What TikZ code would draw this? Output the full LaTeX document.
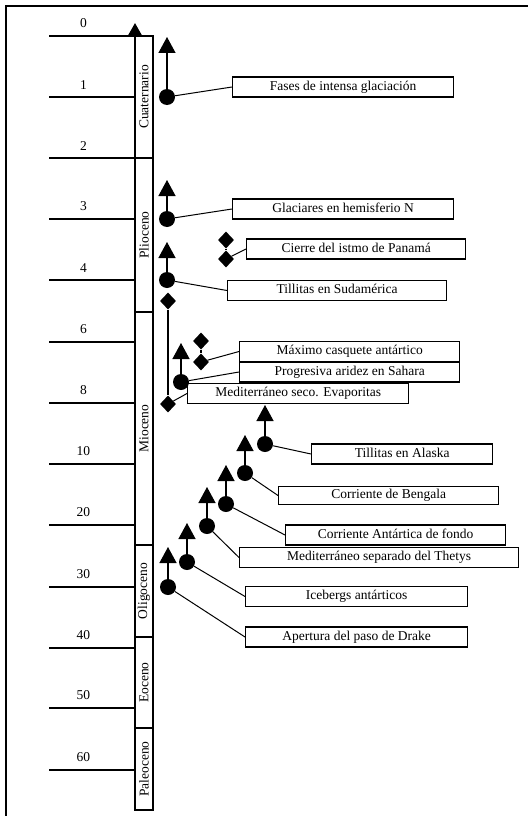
\documentclass[tikz,border=0pt]{standalone}
\usepackage{fontspec}
\setmainfont{Liberation Serif}
\usetikzlibrary{arrows.meta,shapes.geometric,positioning}
\begin{document}
\begin{tikzpicture}[x=1pt,y=-1pt,font=\fontsize{13.5}{15}\selectfont,
    periodo/.style={draw,line width=1.2pt,rotate=90,inner sep=0pt,minimum height=18pt},
    caja/.style={draw,line width=1.3pt,inner sep=0pt,minimum height=20pt,text height=9pt,text depth=3pt,anchor=west},
    punto/.style={circle,fill,inner sep=0pt,minimum size=16pt},
    rombo/.style={diamond,fill,inner sep=0pt,minimum width=16pt,minimum height=17pt},
    sube/.style={line width=1.3pt,-{Triangle[width=17pt,length=16pt]}},
    enlace/.style={line width=1pt}]
    \useasboundingbox (0,0) rectangle (528,816);
    \draw[line width=1.2pt] (6,816)--(6,6)--(528,6);
    \foreach \v/\y in {0/36,1/97,2/158,3/219,4/280,6/342,8/403,10/464,20/525,30/587,40/648,50/708,60/770}
        \draw[line width=1.3pt] (49,\y)--(135,\y) node[pos=0.4,above=4pt] (t\v) {\v};
    \node[periodo,minimum width=122pt] (cuaternario) at (144,97) {Cuaternario};
    \node[periodo,minimum width=154pt] (plioceno) at (144,235) {Plioceno};
    \node[periodo,minimum width=233pt] (mioceno) at (144,428.5) {Mioceno};
    \node[periodo,minimum width=92pt] (oligoceno) at (144,591) {Oligoceno};
    \node[periodo,minimum width=91pt] (eoceno) at (144,682.5) {Eoceno};
    \node[periodo,minimum width=82pt] (paleoceno) at (144,769) {Paleoceno};
    \coordinate (base) at (135,810);
    \coordinate (cima) at (135,23);
    \draw[line width=2.4pt,-{Triangle[width=14pt,length=13pt]}] (base)--(cima);
    \node[caja,minimum width=221pt] (fases) at (232,87) {Fases de intensa glaciación};
    \node[caja,minimum width=221pt] (glaciares) at (232,209) {Glaciares en hemisferio N};
    \node[caja,minimum width=219pt] (cierre) at (246,249) {Cierre del istmo de Panamá};
    \node[caja,minimum width=219pt] (sudamerica) at (227,290.5) {Tillitas en Sudamérica};
    \node[caja,minimum width=220pt] (maximo) at (239,351.5) {Máximo casquete antártico};
    \node[caja,minimum width=220pt] (sahara) at (239,372) {Progresiva aridez en Sahara};
    \node[caja,minimum width=221pt] (seco) at (187,393.5) {Mediterráneo seco. Evaporitas};
    \node[caja,minimum width=181pt] (alaska) at (311,454) {Tillitas en Alaska};
    \node[caja,minimum width=220pt,minimum height=18pt] (bengala) at (278,495.5) {Corriente de Bengala};
    \node[caja,minimum width=220pt] (fondo) at (285,535) {Corriente Antártica de fondo};
    \node[caja,minimum width=279pt] (thetys) at (239,557.5) {Mediterráneo separado del Thetys};
    \node[caja,minimum width=222pt] (icebergs) at (245,596.5) {Icebergs antárticos};
    \node[caja,minimum width=222pt] (drake) at (245,637) {Apertura del paso de Drake};
    \node[punto] (fases p) at (167,97) {};
    \node[punto] (glaciares p) at (167,219) {};
    \node[rombo] (cierre a) at (226,240) {};
    \node[rombo] (cierre b) at (226,259) {};
    \node[punto] (sudamerica p) at (167,280) {};
    \node[rombo] (seco a) at (168,301) {};
    \node[rombo] (seco b) at (168,404) {};
    \node[rombo] (maximo a) at (201,341) {};
    \node[rombo] (maximo b) at (201,362) {};
    \node[punto] (sahara p) at (181,382) {};
    \node[punto] (alaska p) at (265,444) {};
    \node[punto] (bengala p) at (245,473) {};
    \node[punto] (fondo p) at (226,504) {};
    \node[punto] (thetys p) at (207,526) {};
    \node[punto] (icebergs p) at (187,562) {};
    \node[punto] (drake p) at (168,587) {};
    \coordinate (fases f) at (167,37);
    \coordinate (glaciares f) at (167,180);
    \coordinate (sudamerica f) at (167,242);
    \coordinate (sahara f) at (181,343);
    \coordinate (alaska f) at (265,405);
    \coordinate (bengala f) at (245,435);
    \coordinate (fondo f) at (226,465);
    \coordinate (thetys f) at (207,487);
    \coordinate (icebergs f) at (187,523);
    \coordinate (drake f) at (168,547);
    \foreach \e in {fases,glaciares,sudamerica,sahara,alaska,bengala,fondo,thetys,icebergs,drake}{
        \draw[sube] (\e\space p)--(\e\space f);
        \draw[enlace] (\e\space p)--(\e.west);
    }
    \draw[line width=1.3pt] (cierre a)--(cierre b);
    \draw[line width=1.3pt] (seco a)--(seco b);
    \draw[line width=1.3pt] (maximo a)--(maximo b);
    \draw[enlace] (cierre b)--(cierre.west);
    \draw[enlace] (seco b)--(seco.west);
    \draw[enlace] (maximo b)--(maximo.west);
\end{tikzpicture}
\end{document}
